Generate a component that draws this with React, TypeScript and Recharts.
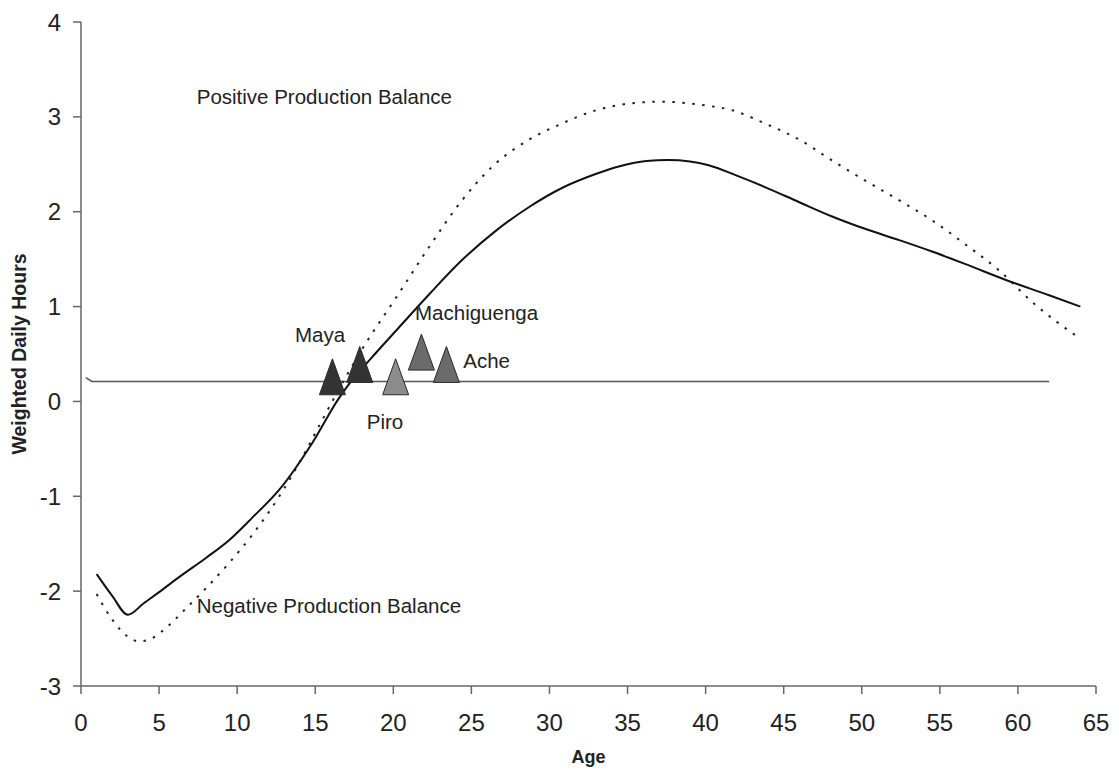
import {
  ComposedChart,
  Line,
  Scatter,
  XAxis,
  YAxis,
  ReferenceDot,
  Label,
} from "recharts";

// solid curve (age, weighted daily hours)
const solidAges = [1, 2, 3, 4, 5, 6.3, 8, 9.5, 11, 12.7, 14.8, 16.5, 17.2, 18.5, 20.2, 22.3, 24.4, 26.5, 28.7, 30.8, 33, 34.5, 36.2, 37.6, 39, 40.2, 42, 43.8, 46, 48.1, 50.2, 52.4, 54.5, 56.6, 59.4, 62, 64];
const solidValues = [-1.82, -2.05, -2.25, -2.13, -2.01, -1.85, -1.65, -1.46, -1.22, -0.93, -0.44, 0.03, 0.19, 0.44, 0.75, 1.13, 1.49, 1.79, 2.05, 2.25, 2.4, 2.48, 2.535, 2.545, 2.53, 2.49, 2.38, 2.26, 2.1, 1.95, 1.82, 1.7, 1.58, 1.45, 1.27, 1.12, 1.0];

// dotted curve
const dottedAges = [1, 2, 3, 3.7, 4.5, 5.5, 6.5, 8, 9.5, 11, 12.7, 14, 15.5, 17, 18, 20.2, 22.3, 24.4, 26.5, 28.7, 30.8, 33, 35.1, 37.2, 40, 41.7, 43.8, 46, 48.1, 50.2, 52.4, 54.5, 56.6, 58.8, 60.9, 64];
const dottedValues = [-2.03, -2.3, -2.48, -2.53, -2.5, -2.38, -2.22, -1.97, -1.7, -1.4, -1.0, -0.64, -0.18, 0.27, 0.55, 1.1, 1.63, 2.12, 2.5, 2.76, 2.93, 3.07, 3.14, 3.16, 3.12, 3.07, 2.93, 2.76, 2.54, 2.33, 2.12, 1.91, 1.66, 1.38, 1.05, 0.66];

// horizontal reference line
const baseAges = [0.3, 0.7, 62];
const baseValues = [0.25, 0.21, 0.21];

// population triangles
const sites = ["Maya", "Maya", "Piro", "Machiguenga", "Ache"];
const siteAges = [16.1, 17.85, 20.15, 21.8, 23.4];
const siteValues = [0.26, 0.39, 0.26, 0.52, 0.39];

// text annotations (left edge, baseline)
const noteTexts = ["Positive Production Balance", "Negative Production Balance", "Maya", "Machiguenga", "Ache", "Piro"];
const noteAges = [7.41, 7.41, 13.7, 21.39, 24.48, 18.3];
const noteValues = [3.14, -2.23, 0.63, 0.86, 0.35, -0.29];

const xTicks = [0, 5, 10, 15, 20, 25, 30, 35, 40, 45, 50, 55, 60, 65];
const yTicks = [-3, -2, -1, 0, 1, 2, 3, 4];

const siteColors: Record<string, string> = {
  Maya: "#333333",
  Piro: "#8c8c8c",
  Machiguenga: "#6b6b6b",
  Ache: "#6b6b6b",
};

const zip = (ages: number[], values: number[]) => ages.map((age, i) => ({ age, v: values[i] }));

const solidData = zip(solidAges, solidValues);
const dottedData = zip(dottedAges, dottedValues);
const baseData = zip(baseAges, baseValues);
const siteData = sites.map((site, i) => ({ site, age: siteAges[i], v: siteValues[i] }));

const FONT = "'Liberation Sans', Arial, sans-serif";
const AXIS = "#666";

function Triangle(props: any) {
  const { cx, cy, payload } = props;
  if (cx == null || cy == null) return null;
  const w = 26;
  const h = 36;
  const pts = `${cx},${cy - h / 2} ${cx + w / 2},${cy + h / 2} ${cx - w / 2},${cy + h / 2}`;
  return <polygon points={pts} fill={siteColors[payload.site]} stroke="#2a2a2a" strokeWidth={1} />;
}

export default function App() {
  return (
    <div style={{ position: "absolute", left: 0, top: 0, background: "#fff", fontFamily: FONT }}>
      <ComposedChart width={1119} height={776} margin={{ top: 22, right: 23, bottom: 0, left: 0 }}>
        <XAxis
          type="number"
          dataKey="age"
          domain={[0, 65]}
          ticks={xTicks}
          interval={0}
          height={90}
          stroke={AXIS}
          strokeWidth={1.5}
          tickSize={8}
          tickMargin={20}
          tick={{ fontSize: 24, fill: "#222", fontFamily: FONT }}
          allowDataOverflow
        >
          <Label
            content={(p: any) => {
              const vb = p.viewBox;
              return (
                <text x={vb.x + vb.width / 2} y={763} textAnchor="middle" fontSize={18} fontWeight="bold" fill="#222" fontFamily={FONT}>
                  Age
                </text>
              );
            }}
          />
        </XAxis>
        <YAxis
          type="number"
          domain={[-3, 4]}
          ticks={yTicks}
          interval={0}
          width={81}
          stroke={AXIS}
          strokeWidth={1.5}
          tickSize={8}
          tickMargin={12}
          tick={{ fontSize: 24, fill: "#222", fontFamily: FONT }}
          allowDataOverflow
        >
          <Label
            content={(p: any) => {
              const vb = p.viewBox;
              const cy = vb.y + vb.height / 2;
              return (
                <text
                  x={19}
                  y={cy}
                  transform={`rotate(-90 19 ${cy})`}
                  textAnchor="middle"
                  dominantBaseline="central"
                  fontSize={19.5}
                  fontWeight="bold"
                  fill="#222"
                  fontFamily={FONT}
                >
                  Weighted Daily Hours
                </text>
              );
            }}
          />
        </YAxis>
        <Line
          data={baseData}
          dataKey="v"
          type="linear"
          stroke="#555"
          strokeWidth={1.5}
          dot={false}
          activeDot={false}
          isAnimationActive={false}
        />
        <Line
          data={dottedData}
          dataKey="v"
          type="monotone"
          stroke="#222"
          strokeWidth={2}
          strokeDasharray="2.5 7.5"
          dot={false}
          activeDot={false}
          isAnimationActive={false}
        />
        <Line
          data={solidData}
          dataKey="v"
          type="monotone"
          stroke="#111"
          strokeWidth={2}
          dot={false}
          activeDot={false}
          isAnimationActive={false}
        />
        <Scatter data={siteData} dataKey="v" shape={Triangle} isAnimationActive={false} />
        {noteTexts.map((t, i) => (
          <ReferenceDot
            key={t}
            x={noteAges[i]}
            y={noteValues[i]}
            r={0}
            fill="none"
            stroke="none"
            label={(p: any) => {
              const vb = p.viewBox;
              return (
                <text x={vb.x} y={vb.y} fontSize={20.5} fill="#222" fontFamily={FONT}>
                  {t}
                </text>
              );
            }}
          />
        ))}
      </ComposedChart>
    </div>
  );
}
